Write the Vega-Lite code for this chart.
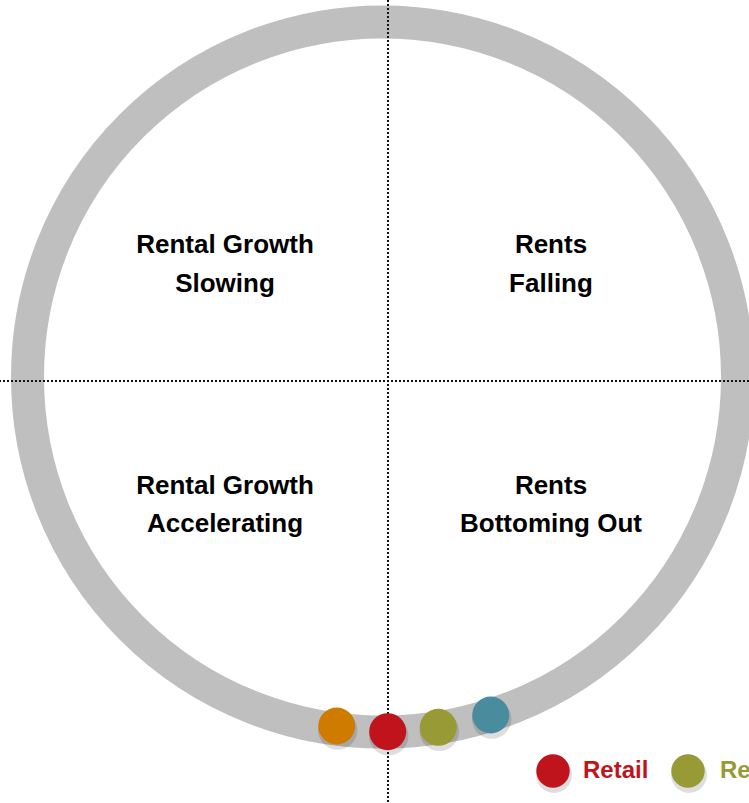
{
  "$schema": "https://vega.github.io/schema/vega-lite/v6.json",
  "width": 749,
  "height": 803,
  "autosize": {"type": "none"},
  "padding": 0,
  "background": "white",
  "config": {"view": {"stroke": null}},
  "datasets": {
    "ring": [{"x": 0, "y": 0}],
    "vline": [{"x": 5.5}],
    "hline": [{"y": -4}],
    "dots": [
      {"sector": "Industrial", "x": -45.8, "y": -349},
      {"sector": "Retail", "x": 5.2, "y": -354.7},
      {"sector": "Residential", "x": 55.8, "y": -350.3},
      {"sector": "Office", "x": 108.2, "y": -338}
    ],
    "labels": [
      {"text": "Rental Growth", "x": -157.5, "y": 132},
      {"text": "Slowing", "x": -157.5, "y": 93},
      {"text": "Rents", "x": 168.5, "y": 132},
      {"text": "Falling", "x": 168.5, "y": 93},
      {"text": "Rental Growth", "x": -157.5, "y": -109},
      {"text": "Accelerating", "x": -157.5, "y": -147},
      {"text": "Rents", "x": 168.5, "y": -109},
      {"text": "Bottoming Out", "x": 168.5, "y": -147}
    ],
    "legend": [
      {"sector": "Retail", "x": 170.5, "y": -394, "tx": 200.5},
      {"sector": "Residential", "x": 305.5, "y": -394, "tx": 337.5}
    ]
  },
  "layer": [
    {
      "data": {"name": "ring"},
      "mark": {"type": "point", "shape": "circle", "filled": false, "stroke": "#bfbfbf", "strokeWidth": 33, "opacity": 1},
      "encoding": {
        "x": {"field": "x", "type": "quantitative", "scale": {"domain": [-382.5, 366.5], "nice": false, "zero": false}, "axis": null},
        "y": {"field": "y", "type": "quantitative", "scale": {"domain": [-426, 377], "nice": false, "zero": false}, "axis": null},
        "size": {"value": 504100}
      }
    },
    {
      "data": {"name": "vline"},
      "mark": {"type": "rule", "color": "#111111", "strokeWidth": 2, "strokeDash": [2, 2]},
      "encoding": {
        "x": {"field": "x", "type": "quantitative", "scale": {"domain": [-382.5, 366.5], "nice": false, "zero": false}, "axis": null}
      }
    },
    {
      "data": {"name": "hline"},
      "mark": {"type": "rule", "color": "#111111", "strokeWidth": 2, "strokeDash": [2, 2]},
      "encoding": {
        "y": {"field": "y", "type": "quantitative", "scale": {"domain": [-426, 377], "nice": false, "zero": false}, "axis": null}
      }
    },
    {
      "data": {"name": "dots"},
      "mark": {"type": "point", "shape": "circle", "filled": true, "color": "#000000", "opacity": 0.13, "yOffset": 4, "xOffset": 1},
      "encoding": {
        "x": {"field": "x", "type": "quantitative", "scale": {"domain": [-382.5, 366.5], "nice": false, "zero": false}, "axis": null},
        "y": {"field": "y", "type": "quantitative", "scale": {"domain": [-426, 377], "nice": false, "zero": false}, "axis": null},
        "size": {"value": 1560}
      }
    },
    {
      "data": {"name": "dots"},
      "mark": {"type": "point", "shape": "circle", "filled": true, "opacity": 1, "strokeWidth": 0},
      "encoding": {
        "x": {"field": "x", "type": "quantitative", "scale": {"domain": [-382.5, 366.5], "nice": false, "zero": false}, "axis": null},
        "y": {"field": "y", "type": "quantitative", "scale": {"domain": [-426, 377], "nice": false, "zero": false}, "axis": null},
        "color": {"field": "sector", "type": "nominal", "scale": {"domain": ["Industrial", "Retail", "Residential", "Office"], "range": ["#cf7b00", "#c0141d", "#989a35", "#488c9e"]}, "legend": null},
        "size": {"value": 1369}
      }
    },
    {
      "data": {"name": "legend"},
      "mark": {"type": "point", "shape": "circle", "filled": true, "color": "#000000", "opacity": 0.13, "yOffset": 4, "xOffset": 1},
      "encoding": {
        "x": {"field": "x", "type": "quantitative", "scale": {"domain": [-382.5, 366.5], "nice": false, "zero": false}, "axis": null},
        "y": {"field": "y", "type": "quantitative", "scale": {"domain": [-426, 377], "nice": false, "zero": false}, "axis": null},
        "size": {"value": 1290}
      }
    },
    {
      "data": {"name": "legend"},
      "mark": {"type": "point", "shape": "circle", "filled": true, "opacity": 1, "strokeWidth": 0},
      "encoding": {
        "x": {"field": "x", "type": "quantitative", "scale": {"domain": [-382.5, 366.5], "nice": false, "zero": false}, "axis": null},
        "y": {"field": "y", "type": "quantitative", "scale": {"domain": [-426, 377], "nice": false, "zero": false}, "axis": null},
        "color": {"field": "sector", "type": "nominal", "scale": {"domain": ["Industrial", "Retail", "Residential", "Office"], "range": ["#cf7b00", "#c0141d", "#989a35", "#488c9e"]}, "legend": null},
        "size": {"value": 1115}
      }
    },
    {
      "data": {"name": "legend"},
      "mark": {"type": "text", "align": "left", "baseline": "middle", "font": "Liberation Sans, Arial, sans-serif", "fontWeight": "bold", "fontSize": 24},
      "encoding": {
        "x": {"field": "tx", "type": "quantitative", "scale": {"domain": [-382.5, 366.5], "nice": false, "zero": false}, "axis": null},
        "y": {"field": "y", "type": "quantitative", "scale": {"domain": [-426, 377], "nice": false, "zero": false}, "axis": null},
        "text": {"field": "sector"},
        "color": {"field": "sector", "type": "nominal", "scale": {"domain": ["Industrial", "Retail", "Residential", "Office"], "range": ["#cf7b00", "#c0141d", "#989a35", "#488c9e"]}, "legend": null}
      }
    },
    {
      "data": {"name": "labels"},
      "mark": {"type": "text", "align": "center", "baseline": "middle", "font": "Liberation Sans, Arial, sans-serif", "fontWeight": "bold", "fontSize": 26, "color": "#000000"},
      "encoding": {
        "x": {"field": "x", "type": "quantitative", "scale": {"domain": [-382.5, 366.5], "nice": false, "zero": false}, "axis": null},
        "y": {"field": "y", "type": "quantitative", "scale": {"domain": [-426, 377], "nice": false, "zero": false}, "axis": null},
        "text": {"field": "text"}
      }
    }
  ]
}
